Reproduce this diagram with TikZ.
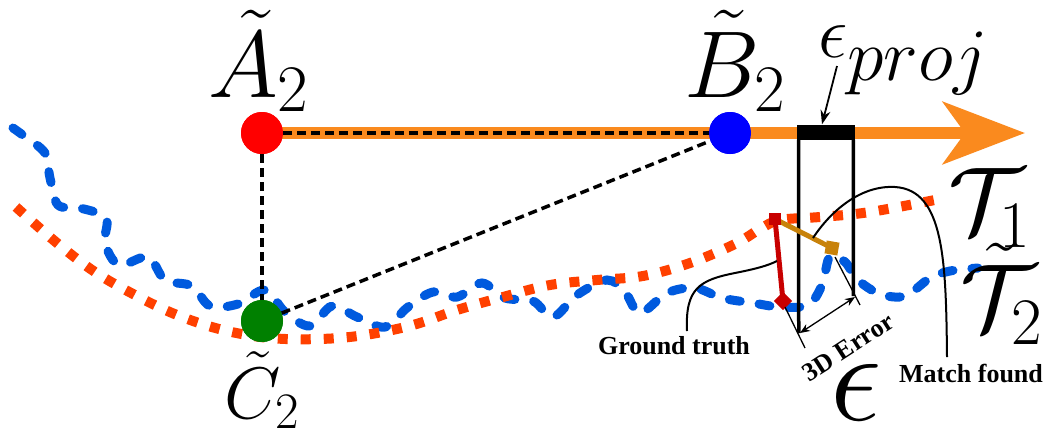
\RequirePackage{fix-cm}
\documentclass[tikz,border=0pt]{standalone}
\usepackage{fontspec}
\newfontfamily\tnr{Liberation Serif}
\usetikzlibrary{arrows.meta}
\definecolor{arrorange}{RGB}{250,138,30}
\definecolor{tred}{RGB}{255,64,0}
\definecolor{tblue}{RGB}{0,90,222}
\definecolor{segred}{RGB}{200,0,0}
\definecolor{seggold}{RGB}{200,130,10}
\definecolor{dotgreen}{RGB}{0,128,0}
\tikzset{
  dot/.style={circle, inner sep=0pt, minimum size=42pt},
  bigmath/.style={inner sep=0pt, anchor=base west, font=\fontsize{95}{95}\selectfont},
  blkdash/.style={black, line width=3.5pt, dash pattern=on 9pt off 5pt},
  boldlab/.style={inner sep=0pt, font=\tnr\bfseries\fontsize{26}{26}\selectfont},
  traj1/.style={tred, line width=10pt, dash pattern=on 10pt off 13pt},
  traj2/.style={tblue, line width=9pt, line cap=round, dash pattern=on 11pt off 19pt},
  leader/.style={black, line width=2pt},
  thinl/.style={black, line width=1.3pt},
}
\begin{document}
\begin{tikzpicture}[x=1pt,y=-1pt]
\useasboundingbox (0,0) rectangle (1046,432);
% trajectories
\draw[traj2] plot[smooth, tension=0.55] coordinates {
(13,128) (24,136) (45,153) (50,178) (58,205) (80,208) (106,218) (105,243) (119,265)
(148,257) (165,280) (192,286) (210,306) (238,304) (265,290) (285,312) (310,326)
(332,306) (357,317) (385,327) (408,307) (433,292) (457,297) (482,283) (505,298)
(533,301) (553,317) (577,295) (607,280) (625,292) (640,313) (667,293) (695,288)
(722,298) (753,303) (780,307) (808,305) (822,285) (830,256) (845,262) (858,280)
(880,294) (905,296) (930,278) (950,271) (978,268)};
\draw[traj1] plot[smooth, tension=0.6] coordinates {
(16,207) (57,243) (95,272) (135,295) (177,315) (223,330) (270,338) (320,339)
(365,335) (413,325) (457,310) (503,297) (550,285) (597,280) (643,276) (690,263)
(735,244) (760,229) (780,220) (820,217) (870,212) (945,198)};
% points
\node[dot, fill=red] (A) at (262,133) {};
\node[dot, fill=blue] (B) at (730,133) {};
\node[dot, fill=dotgreen] (C) at (262,321) {};
\coordinate (tip) at (1025,133);
\draw[arrorange, line width=12pt, -{Stealth[length=82pt,width=62pt,inset=22pt]}] (A.center) -- (tip);
\draw[blkdash] (A) -- (B);
\draw[blkdash] (A) -- (C);
\draw[blkdash] (C) -- (B);
\node[dot, fill=red] at (A) {};
\node[dot, fill=blue] at (B) {};
\node[dot, fill=dotgreen] at (C) {};
% projection box
\node[fill=black, inner sep=0pt, minimum width=58pt, minimum height=15pt] (bar) at (826,132) {};
\draw[black, line width=3.5pt] (bar.south west) ++(1.75,0) -- (798.75,333);
\draw[black, line width=3.5pt] (bar.south east) ++(-1.75,0) -- (853.25,296);
% segments
\coordinate (top) at (775,219);
\coordinate (gt) at (783,301);
\coordinate (mf) at (832,248);
\draw[segred, line width=5pt] (top) -- (gt);
\draw[seggold, line width=5pt] (top) -- (mf);
\node[fill=segred, inner sep=0pt, minimum size=12pt] at (top) {};
\node[fill=segred, inner sep=0pt, minimum size=13pt, rotate=45] at (gt) {};
\node[fill=seggold, inner sep=0pt, minimum size=13pt, rotate=-10] at (mf) {};
% 3D error
\draw[thinl] (785,307) -- (805,348);
\draw[thinl] (835,257) -- (860,305);
\draw[thinl, {Stealth[length=10pt,width=8pt]}-{Stealth[length=10pt,width=8pt]}] (800,333) -- (855,297);
\node[boldlab, rotate=33] (err) at (848,347) {3D Error};
% leaders
\node[boldlab] (gtl) at (674,346) {Ground truth};
\node[boldlab] (mfl) at (971,373) {Match found};
\draw[leader] (687,331) .. controls (685,288) and (700,280) .. (735,273) .. controls (755,269) and (767,266) .. (777,261);
\draw[leader] (947,357) .. controls (946,260) and (944,190) .. (895,187) .. controls (860,185) and (830,212) .. (813,238);
% eps proj
\node[inner sep=0pt, anchor=base west, font=\fontsize{74}{74}\selectfont] (ep) at (818,57) {$\epsilon_{\textstyle proj}$};
\coordinate (eps) at (837,66);
\draw[black, line width=1.8pt, -{Stealth[length=14pt,width=10pt]}] (eps) -- ([xshift=-4pt]bar.north);
% labels
\node[bigmath] (lA) at (208,97) {$\tilde{A}_2$};
\node[bigmath] (lB) at (684,97) {$\tilde{B}_2$};
\node[bigmath, font=\fontsize{73}{73}\selectfont] (lC) at (224,418) {$\tilde{C}_2$};
\node[bigmath] (lT1) at (948,233) {$\mathcal{T}_1$};
\node[bigmath] (lT2) at (960,330) {$\tilde{\mathcal{T}}_2$};
\node[inner sep=0pt, anchor=base west, font=\fontsize{130}{130}\selectfont] (eps3d) at (830,420) {$\epsilon$};
\end{tikzpicture}
\end{document}
